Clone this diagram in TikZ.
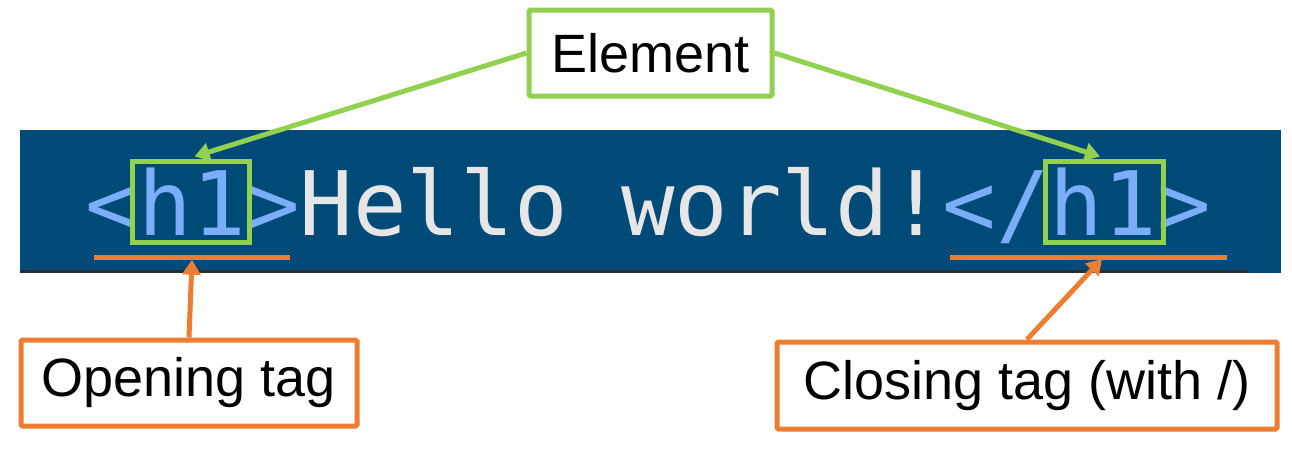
\documentclass[tikz,border=0pt]{standalone}
\usepackage{fontspec}
\setmainfont{Liberation Sans}
\newfontfamily\codefont{DejaVu Sans Mono}
\usetikzlibrary{arrows.meta,calc}
\definecolor{band}{RGB}{0,74,120}
\definecolor{tagblue}{RGB}{122,174,248}
\definecolor{codegray}{RGB}{230,230,230}
\definecolor{elgreen}{RGB}{146,208,80}
\definecolor{taggold}{RGB}{237,125,49}
\definecolor{edgedark}{RGB}{45,45,45}
\tikzset{
  labelbox/.style={draw, line width=5pt, fill=white, rounded corners=1.5pt, inner sep=0pt,
    font=\fontsize{54}{60}\selectfont, text=black},
  greenbox/.style={labelbox, draw=elgreen},
  orangebox/.style={labelbox, draw=taggold},
  hbox/.style={draw=elgreen, line width=5pt, inner sep=0pt},
  uline/.style={fill=taggold, inner sep=0pt, minimum height=5pt},
  greenarrow/.style={draw=elgreen, line width=5pt, -{Triangle[length=15pt,width=18pt]}},
  orangearrow/.style={draw=taggold, line width=5pt, -{Triangle[length=15pt,width=18pt]}},
}
\begin{document}
\begin{tikzpicture}[x=1pt,y=-1pt]
\useasboundingbox (0,0) rectangle (1292,453);
% code band
\fill[band] (20,130) rectangle (1281,273);
\fill[edgedark] (20,270) rectangle (1248,273);
\node[anchor=base, inner sep=0pt, font=\codefont\fontsize{89}{100}\selectfont] (code) at (648,235)
  {\textcolor{tagblue}{<h1>}\textcolor{codegray}{Hello world!}\textcolor{tagblue}{</h1>}};
% green boxes around h1
\node[hbox, minimum width=117pt, minimum height=81pt] (lbox) at (190.5,201.5) {};
\node[hbox, minimum width=118pt, minimum height=81pt] (rbox) at (1104,201.5) {};
% orange underlines
\node[uline, minimum width=196pt] (ul1) at (192,257) {};
\node[uline, minimum width=277pt] (ul2) at (1088.5,257) {};
\coordinate (c2) at (1102,259);
% label boxes
\node[greenbox, minimum width=243pt, minimum height=86pt] (elem) at (650.5,53) {Element};
\node[orangebox, minimum width=336pt, minimum height=86pt] (open) at (189,383) {Opening tag};
\node[orangebox, minimum width=500pt, minimum height=87pt] (close) at (1027,385.5) {Closing tag (with /)};
% arrows
\draw[greenarrow] (elem.west) -- ($(lbox.north)+(4,-2)$);
\draw[greenarrow] (elem.east) -- ($(rbox.north)+(-4,-2)$);
\draw[orangearrow] (open.north) -- (ul1.south);
\draw[orangearrow] (close.north) -- (c2);
\end{tikzpicture}
\end{document}
